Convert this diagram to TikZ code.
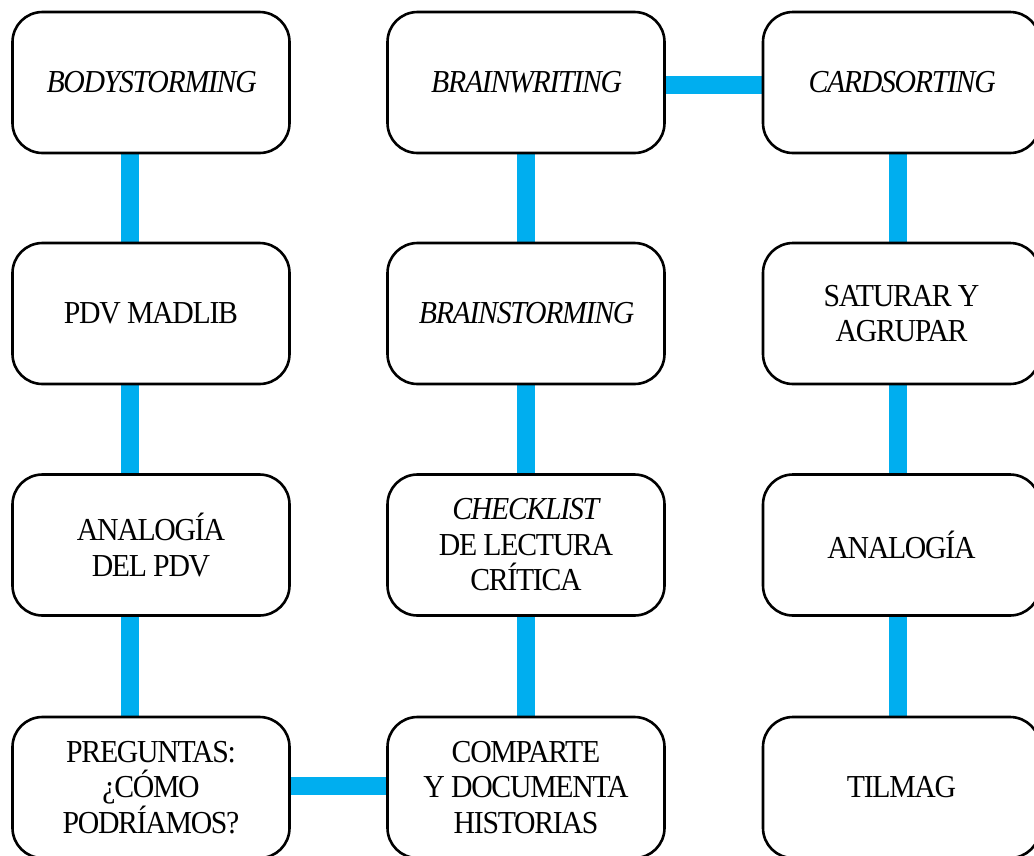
\documentclass[tikz,border=0pt]{standalone}
\usepackage{fontspec}
\setmainfont{Liberation Serif}[FakeStretch=0.93,LetterSpace=-4]
\usetikzlibrary{positioning,backgrounds}
\definecolor{linkblue}{RGB}{0,174,239}
\tikzset{
    % Technique boxes
    technique/.style={
        draw=black,
        fill=white,
        rounded corners=30pt,
        line width=2.6pt,
        minimum width=277pt,
        minimum height=141pt,
        align=center,
        inner sep=0pt,
        font=\fontsize{32}{35.5}\selectfont
    },
    % Thick connecting bars
    link/.style={
        draw=linkblue,
        line width=18pt
    }
}

\begin{document}
\begin{tikzpicture}[x=1pt,y=-1pt]

\useasboundingbox (0,0) rectangle (1034,855);

% ==================== COLUMN 1 ====================
\node[technique] (bodystorm) at (151, 82.5) {\textit{BODYSTORMING}};
\node[technique] (madlib) at (151, 313.5) {PDV MADLIB};
\node[technique] (analogiapdv) at (151, 545) {ANALOGÍA\\DEL PDV};
\node[technique] (preguntas) at (151, 787.5) {PREGUNTAS:\\¿CÓMO\\PODRÍAMOS?};

% ==================== COLUMN 2 ====================
\node[technique] (brainwrite) at (526, 82.5) {\textit{BRAINWRITING}};
\node[technique] (brainstorm) at (526, 313.5) {\textit{BRAINSTORMING}};
\node[technique] (checklist) at (526, 545) {\textit{CHECKLIST}\\DE LECTURA\\CRÍTICA};
\node[technique] (comparte) at (526, 787.5) {COMPARTE\\Y DOCUMENTA\\HISTORIAS};

% ==================== COLUMN 3 ====================
\node[technique] (cardsort) at (901.5, 82.5) {\textit{CARDSORTING}};
\node[technique] (saturar) at (901.5, 313.5) {SATURAR Y\\AGRUPAR};
\node[technique] (analogia) at (901.5, 545) {ANALOGÍA};
\node[technique] (tilmag) at (901.5, 787.5) {TILMAG};

% ==================== CONNECTORS ====================
\begin{scope}[on background layer]
    % Column 1 (bar sits left of centre)
    \draw[link] ([xshift=-21pt]bodystorm.south) -- ([xshift=-21pt]madlib.north);
    \draw[link] ([xshift=-21pt]madlib.south) -- ([xshift=-21pt]analogiapdv.north);
    \draw[link] ([xshift=-21pt]analogiapdv.south) -- ([xshift=-21pt]preguntas.north);
    % Column 2
    \draw[link] (brainwrite.south) -- (brainstorm.north);
    \draw[link] (brainstorm.south) -- (checklist.north);
    \draw[link] (checklist.south) -- (comparte.north);
    % Column 3
    \draw[link] ([xshift=-3.5pt]cardsort.south) -- ([xshift=-3.5pt]saturar.north);
    \draw[link] ([xshift=-3.5pt]saturar.south) -- ([xshift=-3.5pt]analogia.north);
    \draw[link] ([xshift=-3.5pt]analogia.south) -- ([xshift=-3.5pt]tilmag.north);
    % Horizontal bars
    \draw[link] ([yshift=-2.5pt]brainwrite.east) -- ([yshift=-2.5pt]cardsort.west);
    \draw[link] ([yshift=1.5pt]preguntas.east) -- ([yshift=1.5pt]comparte.west);
\end{scope}

\end{tikzpicture}
\end{document}
